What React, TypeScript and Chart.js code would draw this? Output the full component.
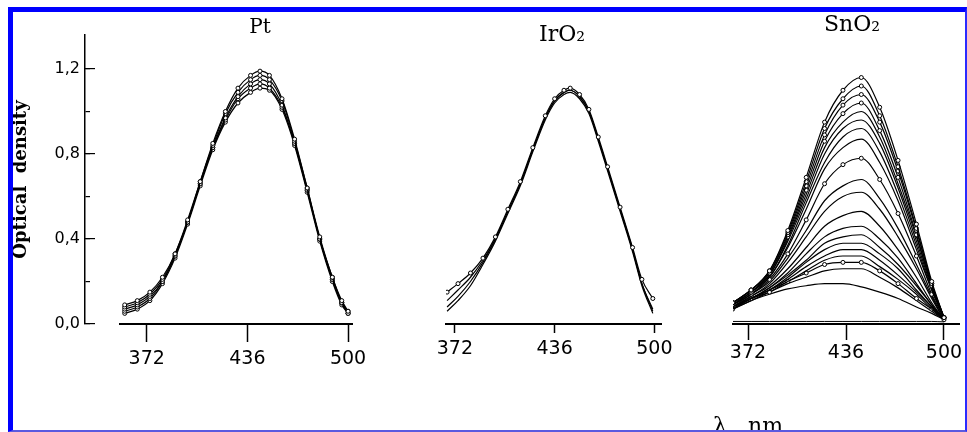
import React, { useEffect, useRef } from 'react';
import { Chart, registerables } from 'chart.js';

Chart.register(...registerables);

// ---------------- data ----------------
const X_TICKS = [372, 436, 500];
const Y_TICKS = [0, 0.2, 0.4, 0.6, 0.8, 1.0, 1.2];
const Y_LABELS = ['0,0', '', '0,4', '', '0,8', '', '1,2'];
const Y_TITLE = 'Optical  density';
const X_TITLE = 'λ,  nm';
const PANEL_TITLES = ['Pt', 'IrO₂', 'SnO₂'];

// Pt panel (wavelength, nm)
const WL_PT = [358, 366, 374, 382, 390, 398, 406, 414, 422, 430, 438, 444, 450, 458, 466, 474, 482, 490, 496, 500];
const PT_1 = [0.09, 0.11, 0.15, 0.22, 0.33, 0.49, 0.67, 0.85, 1.00, 1.11, 1.17, 1.19, 1.17, 1.06, 0.87, 0.64, 0.41, 0.22, 0.11, 0.06];
const PT_2 = [0.08, 0.10, 0.14, 0.21, 0.33, 0.48, 0.67, 0.84, 0.99, 1.09, 1.15, 1.17, 1.15, 1.05, 0.86, 0.64, 0.40, 0.22, 0.10, 0.05];
const PT_3 = [0.07, 0.09, 0.13, 0.20, 0.32, 0.48, 0.66, 0.83, 0.97, 1.07, 1.13, 1.15, 1.13, 1.03, 0.85, 0.63, 0.40, 0.21, 0.10, 0.05];
const PT_4 = [0.06, 0.08, 0.12, 0.20, 0.32, 0.48, 0.66, 0.83, 0.96, 1.06, 1.11, 1.13, 1.11, 1.02, 0.85, 0.63, 0.40, 0.21, 0.10, 0.06];
const PT_5 = [0.05, 0.07, 0.11, 0.19, 0.31, 0.47, 0.65, 0.82, 0.95, 1.04, 1.09, 1.11, 1.10, 1.01, 0.84, 0.62, 0.39, 0.20, 0.09, 0.05];

// IrO2 panel
const WL_IR = [367, 374, 382, 390, 398, 406, 414, 422, 430, 436, 442, 446, 452, 458, 464, 470, 478, 486, 492, 499];
const IR_1 = [0.15, 0.19, 0.24, 0.31, 0.41, 0.54, 0.67, 0.83, 0.98, 1.06, 1.10, 1.11, 1.08, 1.01, 0.88, 0.74, 0.55, 0.36, 0.21, 0.12];
const IR_2 = [0.11, 0.16, 0.22, 0.30, 0.40, 0.53, 0.66, 0.82, 0.97, 1.05, 1.09, 1.10, 1.07, 1.00, 0.87, 0.73, 0.54, 0.35, 0.19, 0.07];
const IR_3 = [0.08, 0.13, 0.20, 0.29, 0.40, 0.53, 0.66, 0.82, 0.97, 1.05, 1.09, 1.10, 1.07, 1.00, 0.87, 0.73, 0.54, 0.35, 0.19, 0.06];
const IR_4 = [0.06, 0.11, 0.18, 0.28, 0.39, 0.52, 0.65, 0.81, 0.96, 1.04, 1.08, 1.09, 1.06, 0.99, 0.86, 0.72, 0.53, 0.34, 0.18, 0.05];

// SnO2 panel
const WL_SN = [362, 374, 386, 398, 410, 422, 434, 446, 458, 470, 482, 492, 500];
const SN_01 = [0.10, 0.16, 0.25, 0.44, 0.69, 0.95, 1.10, 1.16, 1.02, 0.77, 0.47, 0.20, 0.03];
const SN_02 = [0.10, 0.16, 0.25, 0.43, 0.67, 0.92, 1.06, 1.12, 0.98, 0.74, 0.45, 0.19, 0.03];
const SN_03 = [0.10, 0.16, 0.24, 0.42, 0.65, 0.89, 1.03, 1.08, 0.95, 0.72, 0.44, 0.19, 0.03];
const SN_04 = [0.10, 0.15, 0.24, 0.41, 0.63, 0.86, 0.99, 1.04, 0.91, 0.69, 0.42, 0.18, 0.03];
const SN_05 = [0.09, 0.15, 0.23, 0.40, 0.61, 0.83, 0.95, 1.00, 0.88, 0.66, 0.41, 0.18, 0.03];
const SN_06 = [0.09, 0.15, 0.23, 0.39, 0.59, 0.80, 0.92, 0.96, 0.85, 0.64, 0.39, 0.17, 0.03];
const SN_07 = [0.09, 0.15, 0.22, 0.37, 0.57, 0.76, 0.88, 0.92, 0.81, 0.61, 0.37, 0.16, 0.03];
const SN_08 = [0.09, 0.14, 0.22, 0.36, 0.54, 0.73, 0.83, 0.87, 0.76, 0.58, 0.35, 0.16, 0.03];
const SN_09 = [0.09, 0.14, 0.21, 0.33, 0.49, 0.66, 0.75, 0.78, 0.68, 0.52, 0.32, 0.14, 0.03];
const SN_10 = [0.08, 0.14, 0.20, 0.31, 0.44, 0.58, 0.65, 0.68, 0.59, 0.45, 0.28, 0.13, 0.02];
const SN_11 = [0.08, 0.13, 0.19, 0.29, 0.41, 0.53, 0.60, 0.62, 0.54, 0.41, 0.26, 0.12, 0.02];
const SN_12 = [0.08, 0.13, 0.18, 0.26, 0.36, 0.46, 0.51, 0.53, 0.46, 0.35, 0.22, 0.10, 0.02];
const SN_13 = [0.08, 0.12, 0.17, 0.24, 0.33, 0.41, 0.45, 0.46, 0.40, 0.31, 0.19, 0.09, 0.02];
const SN_14 = [0.08, 0.12, 0.17, 0.23, 0.30, 0.38, 0.41, 0.42, 0.36, 0.28, 0.18, 0.09, 0.02];
const SN_15 = [0.08, 0.12, 0.16, 0.22, 0.29, 0.35, 0.38, 0.38, 0.33, 0.26, 0.16, 0.08, 0.02];
const SN_16 = [0.08, 0.12, 0.16, 0.21, 0.27, 0.32, 0.35, 0.35, 0.30, 0.23, 0.15, 0.08, 0.02];
const SN_17 = [0.07, 0.12, 0.16, 0.20, 0.25, 0.30, 0.32, 0.32, 0.27, 0.21, 0.14, 0.07, 0.02];
const SN_18 = [0.07, 0.12, 0.15, 0.20, 0.24, 0.28, 0.29, 0.29, 0.25, 0.19, 0.12, 0.07, 0.02];
const SN_19 = [0.07, 0.11, 0.15, 0.19, 0.22, 0.25, 0.26, 0.26, 0.22, 0.17, 0.11, 0.06, 0.02];
const SN_20 = [0.07, 0.11, 0.14, 0.165, 0.18, 0.19, 0.19, 0.175, 0.15, 0.12, 0.08, 0.05, 0.02];
const SN_BASE = [0.012, 0.012, 0.012, 0.012, 0.012, 0.012, 0.012, 0.012, 0.012, 0.012, 0.012, 0.012, 0.01];

// ---------------- layout / style ----------------
const W = 967;
const H = 432;
const FONT_SANS = 'DejaVu Sans';
const FONT_SERIF = 'DejaVu Serif';
const BOTTOM = 324;         // pixel of value 0
const PX_PER_UNIT = 212.5;  // pixels per optical-density unit
const AXIS_TOP = 35;
const PANEL_TOP = 48;
const X_AXIS_H = 50;
const Y_AXIS_X = 85;
const Y_INNER_TICK = 5;
const Y_CANVAS_W = 783;
const Y_CANVAS_H = 450;

function lineDs(wl: number[], vals: number[], marker: boolean, width = 1.2) {
  return {
    data: wl.map((x, i) => ({ x, y: vals[i] })),
    borderColor: '#000',
    backgroundColor: '#fff',
    borderWidth: width,
    pointRadius: marker ? 2 : 0,
    pointBorderWidth: 1,
    pointBorderColor: '#000',
    pointBackgroundColor: '#fff',
    cubicInterpolationMode: 'monotone',
    fill: false,
  };
}

type Panel = {
  title: string;
  titleSize: number;
  titleMid: number;
  titleCenter: number;
  left: number;
  right: number;
  xMin: number;
  xMax: number;
  tickLen: number;
  tickPad: number;
  datasets: any[];
};

const PANELS: Panel[] = [
  {
    title: PANEL_TITLES[0], titleSize: 20, titleMid: 28, titleCenter: 260,
    left: 120, right: 352, xMin: 355, xMax: 502.5, tickLen: 18, tickPad: 6,
    datasets: [
      lineDs(WL_PT, PT_1, true), lineDs(WL_PT, PT_2, true), lineDs(WL_PT, PT_3, true),
      lineDs(WL_PT, PT_4, true), lineDs(WL_PT, PT_5, true),
    ],
  },
  {
    title: PANEL_TITLES[1], titleSize: 22, titleMid: 35, titleCenter: 562,
    left: 446, right: 663, xMin: 366.3, xMax: 504.5, tickLen: 9, tickPad: 5,
    datasets: [
      lineDs(WL_IR, IR_1, true), lineDs(WL_IR, IR_2, false),
      lineDs(WL_IR, IR_3, false), lineDs(WL_IR, IR_4, false),
    ],
  },
  {
    title: PANEL_TITLES[2], titleSize: 22, titleMid: 25, titleCenter: 852,
    left: 733, right: 959, xMin: 362.2, xMax: 509.8, tickLen: 16, tickPad: 2,
    datasets: [
      lineDs(WL_SN, SN_01, true), lineDs(WL_SN, SN_02, true), lineDs(WL_SN, SN_03, true),
      lineDs(WL_SN, SN_04, true), lineDs(WL_SN, SN_05, false), lineDs(WL_SN, SN_06, false),
      lineDs(WL_SN, SN_07, false), lineDs(WL_SN, SN_08, false), lineDs(WL_SN, SN_09, true),
      lineDs(WL_SN, SN_10, false), lineDs(WL_SN, SN_11, false), lineDs(WL_SN, SN_12, false),
      lineDs(WL_SN, SN_13, false), lineDs(WL_SN, SN_14, false), lineDs(WL_SN, SN_15, false),
      lineDs(WL_SN, SN_16, false), lineDs(WL_SN, SN_17, false), lineDs(WL_SN, SN_18, true),
      lineDs(WL_SN, SN_19, false), lineDs(WL_SN, SN_20, false), lineDs(WL_SN, SN_BASE, false, 1),
    ],
  },
];

function panelSize(p: Panel) {
  return { w: 2 * p.titleCenter - p.left, h: H };
}

function panelConfig(p: Panel): any {
  const { w } = panelSize(p);
  const rightAxisW = w - p.right;
  const lh = p.titleSize * 1.2;
  const padTop = p.titleMid - lh / 2;
  const padBottom = PANEL_TOP - padTop - lh;
  return {
    type: 'line',
    data: { datasets: p.datasets },
    options: {
      animation: false,
      responsive: false,
      devicePixelRatio: 1,
      events: [],
      layout: { padding: { left: p.left, right: 0, top: 0, bottom: H - BOTTOM - X_AXIS_H } },
      plugins: {
        legend: { display: false },
        tooltip: { enabled: false },
        title: {
          display: true,
          text: p.title,
          color: '#000',
          font: { family: FONT_SERIF, size: p.titleSize, weight: 'normal' },
          padding: { top: padTop, bottom: padBottom },
        },
      },
      scales: {
        x: {
          type: 'linear',
          min: p.xMin,
          max: p.xMax,
          afterBuildTicks: (s: any) => { s.ticks = X_TICKS.map((v) => ({ value: v })); },
          afterFit: (s: any) => { s.height = X_AXIS_H; },
          grid: { display: true, drawOnChartArea: false, drawTicks: true, tickLength: p.tickLen, tickWidth: 1.5, tickColor: '#000' },
          border: { display: true, color: '#000', width: 2 },
          ticks: {
            color: '#000', padding: p.tickPad, autoSkip: false, maxRotation: 0,
            font: { family: FONT_SANS, size: 19 },
            callback: (v: any) => String(v),
          },
        },
        y: {
          position: 'right',
          min: 0,
          max: (BOTTOM - PANEL_TOP) / PX_PER_UNIT,
          afterFit: (s: any) => { s.width = rightAxisW; },
          grid: { display: false },
          border: { display: false },
          ticks: { display: false },
        },
      },
    },
  };
}

function yAxisConfig(): any {
  const subSize = 22;
  const lh = subSize * 1.2;
  const boxH = Y_CANVAS_H - BOTTOM;
  const textMid = 427;
  const subPadTop = textMid - BOTTOM - lh / 2;
  const subPadBottom = boxH - subPadTop - lh;
  return {
    type: 'line',
    data: { datasets: [] },
    options: {
      animation: false,
      responsive: false,
      devicePixelRatio: 1,
      events: [],
      layout: { padding: { left: 0, right: 0, top: AXIS_TOP, bottom: 0 } },
      plugins: {
        legend: { display: false },
        tooltip: { enabled: false },
        title: { display: false },
        subtitle: {
          display: true,
          position: 'bottom',
          align: 'end',
          text: X_TITLE,
          color: '#000',
          font: { family: FONT_SERIF, size: subSize, weight: 'normal' },
          padding: { top: subPadTop, bottom: subPadBottom },
        },
      },
      scales: {
        x: { type: 'linear', display: false, min: 0, max: 1 },
        y: {
          position: 'left',
          min: 0,
          max: (BOTTOM - AXIS_TOP) / PX_PER_UNIT,
          afterBuildTicks: (s: any) => { s.ticks = Y_TICKS.map((v) => ({ value: v })); },
          afterFit: (s: any) => { s.width = Y_AXIS_X; },
          grid: {
            display: true,
            drawOnChartArea: true,
            drawTicks: true,
            tickLength: -10,
            color: '#000',
            lineWidth: 1.2,
            tickWidth: 1.2,
            tickColor: (ctx: any) => (Y_LABELS[ctx.index] ? '#000' : 'rgba(0,0,0,0)'),
          },
          border: { display: true, color: '#000', width: 1.5 },
          ticks: {
            color: '#000',
            padding: 15,
            font: { family: FONT_SANS, size: 16 },
            callback: (_v: any, i: number) => Y_LABELS[i],
          },
          title: {
            display: true,
            text: Y_TITLE,
            color: '#000',
            font: { family: FONT_SERIF, size: 18, weight: 'bold' },
            padding: { top: 11, bottom: 0 },
          },
        },
        yR: {
          position: 'right',
          display: true,
          afterFit: (s: any) => { s.width = Y_CANVAS_W - Y_AXIS_X - Y_INNER_TICK; },
          grid: { display: false },
          border: { display: false },
          ticks: { display: false },
        },
      },
    },
  };
}

function ChartCanvas({ width, height, makeConfig }: { width: number; height: number; makeConfig: () => any }) {
  const ref = useRef<HTMLCanvasElement>(null);
  useEffect(() => {
    const chart = new Chart(ref.current as HTMLCanvasElement, makeConfig());
    return () => chart.destroy();
  }, []);
  return (
    <canvas
      ref={ref}
      width={width}
      height={height}
      style={{ position: 'absolute', left: 0, top: 0, width, height }}
    />
  );
}

export default function App() {
  return (
    <div
      style={{
        position: 'absolute', left: 0, top: 0, width: W, height: H,
        overflow: 'hidden', background: '#fff',
      }}
    >
      <ChartCanvas width={Y_CANVAS_W} height={Y_CANVAS_H} makeConfig={yAxisConfig} />
      {PANELS.map((p, i) => {
        const s = panelSize(p);
        return <ChartCanvas key={i} width={s.w} height={s.h} makeConfig={() => panelConfig(p)} />;
      })}
      <div
        style={{
          position: 'absolute', left: 8, top: 7, width: W - 8, height: H - 7,
          boxSizing: 'border-box',
          borderTop: '5px solid #0000ff', borderLeft: '5px solid #0000ff',
          borderRight: '2px solid #2a2aff', borderBottom: '2px solid #5a5ae0',
          pointerEvents: 'none',
        }}
      />
    </div>
  );
}
